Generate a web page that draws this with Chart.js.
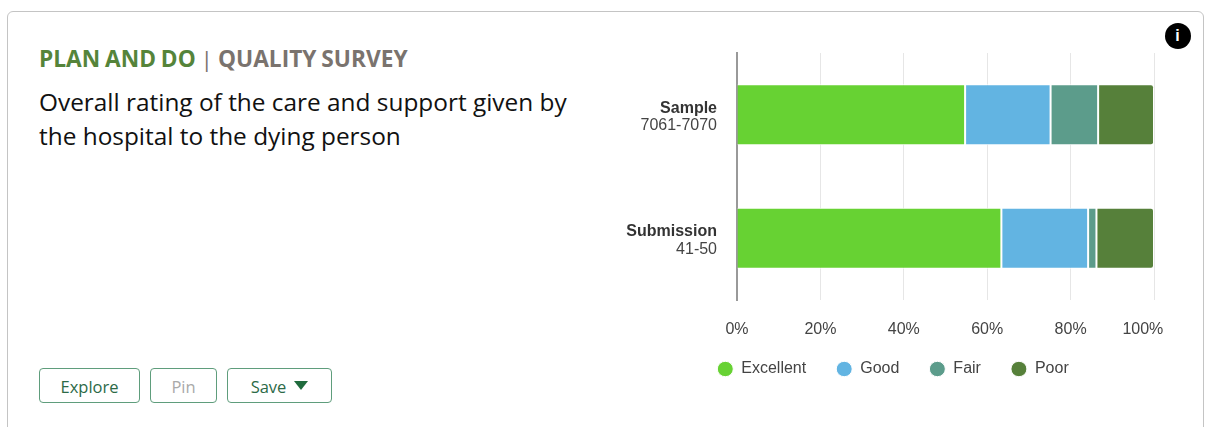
<!DOCTYPE html>
<html>
<head>
<meta charset="utf-8">
<style>
  html, body { margin: 0; padding: 0; background: #fff; }
  body { width: 1208px; height: 427px; overflow: hidden; position: relative; font-family: "Open Sans", "Noto Sans", sans-serif; }
  .card { position: absolute; left: 7px; top: 11px; width: 1195px; height: 440px; border: 1px solid #c4c4c4; border-radius: 6px; box-sizing: content-box; }
  .eyebrow { position: absolute; left: 39px; top: 44px; font-size: 22.7px; line-height: 30px; font-weight: 700; white-space: nowrap; color: #7a736e; word-spacing: -1px; }
  .eyebrow .plan { color: #55843a; }
  .eyebrow .sep { font-weight: 400; }
  .question { position: absolute; left: 39px; top: 85px; font-size: 24.4px; line-height: 33.5px; color: #111; white-space: nowrap; }
  .btn { position: absolute; top: 368px; height: 33px; border: 1px solid #5f9d7c; border-radius: 4px; background: #fff; color: #2c6a47; font-size: 16.5px; line-height: 35px; text-align: center; box-sizing: content-box; }
  .btn.off { color: #a9a9a9; }
  .btn svg { margin-left: 8px; vertical-align: 3px; }
  .info { position: absolute; left: 1164.5px; top: 23px; width: 26px; height: 26px; border-radius: 50%; background: #000; color: #fff; font: bold 16px/26px "Liberation Sans", sans-serif; text-align: center; }
  #wrap { position: absolute; left: 590px; top: 40px; width: 606px; height: 342px; }
</style>
</head>
<body>
<div class="card"></div>
<div class="eyebrow"><span class="plan">PLAN AND DO</span> <span class="sep">|</span> QUALITY SURVEY</div>
<div class="question">Overall rating of the care and support given by<br>the hospital to the dying person</div>
<div class="btn" style="left:39px;width:99px;">Explore</div>
<div class="btn off" style="left:150px;width:65px;">Pin</div>
<div class="btn" style="left:227px;width:103px;">Save<svg width="14" height="9" viewBox="0 0 14 9"><path d="M0 0H14L7 9Z" fill="#1f6b3d"/></svg></div>
<div class="info">i</div>
<div id="wrap"><canvas id="chart"></canvas></div>

<script src="https://cdn.jsdelivr.net/npm/chart.js@4"></script>
<script>
const groupNames = ["Sample", "Submission"];
const groupRanges = ["7061-7070", "41-50"];
const excellent = [54.7, 63.4];
const good = [20.5, 20.8];
const fair = [11.4, 2.0];
const poor = [13.4, 13.8];
const seriesNames = ["Excellent", "Good", "Fair", "Poor"];
const seriesColors = ["#67d233", "#62b4e2", "#5c9c8b", "#56803a"];
const xTicks = [0, 20, 40, 60, 80, 100];

const FONT = '"Liberation Sans", Arial, sans-serif';

// Two-line category labels: bold name above a regular-weight range.
const categoryLabels = {
  id: "categoryLabels",
  afterDraw(chart) {
    const { ctx, scales: { y } } = chart;
    ctx.save();
    ctx.textAlign = "right";
    ctx.textBaseline = "middle";
    groupNames.forEach((name, i) => {
      const py = y.getPixelForValue(i);
      const px = y.right - 20;
      ctx.fillStyle = "#333";
      ctx.font = "bold 16px " + FONT;
      ctx.fillText(name, px, py - 6.5);
      ctx.fillStyle = "#444";
      ctx.font = "16px " + FONT;
      ctx.fillText(groupRanges[i], px, py + 11);
    });
    ctx.restore();
  }
};

// The legend's item padding also pads it vertically; trim that space and lift the row
// so the wide item spacing does not push it away from the axis labels.
const compactLegend = {
  id: "compactLegend",
  beforeInit(chart) {
    const legend = chart.legend;
    const baseFit = legend.fit;
    const baseDraw = legend.draw;
    legend.fit = function () {
      baseFit.call(this);
      this.height -= 10;
    };
    legend.draw = function () {
      this.ctx.save();
      this.ctx.translate(0, -5);
      baseDraw.call(this);
      this.ctx.restore();
    };
  }
};

const makeSet = (i, data, extra) => Object.assign({
  label: seriesNames[i],
  data,
  backgroundColor: seriesColors[i],
  borderColor: "#ffffff",
  borderWidth: 1,
  borderSkipped: false,
  barPercentage: 0.988,
  categoryPercentage: 0.5
}, extra);

new Chart(document.getElementById("chart"), {
  type: "bar",
  data: {
    labels: groupNames,
    datasets: [
      makeSet(0, excellent, { borderSkipped: "left" }),
      makeSet(1, good),
      makeSet(2, fair),
      makeSet(3, poor, { borderRadius: { topRight: 3, bottomRight: 3 } })
    ]
  },
  plugins: [categoryLabels, compactLegend],
  options: {
    indexAxis: "y",
    responsive: true,
    maintainAspectRatio: false,
    animation: false,
    layout: { padding: { top: 13, right: 0, left: 0, bottom: 0 } },
    scales: {
      x: {
        stacked: true,
        min: 0,
        max: 100,
        afterBuildTicks(scale) { scale.ticks = xTicks.map(value => ({ value })); },
        // The right gutter belongs to the axis so the legend stays centred on the full canvas.
        afterFit(scale) { scale.height = 36; scale.paddingRight = 42; },
        ticks: {
          // The end label sits inward from its gridline; trailing spaces shift the centred text left.
          callback: v => v === 100 ? "100%     " : v + "%",
          color: "#444",
          font: { family: FONT, size: 16 },
          padding: 20,
          maxRotation: 0
        },
        grid: { color: "#e6e6e6", lineWidth: 1, drawTicks: false },
        border: { display: false }
      },
      y: {
        stacked: true,
        afterFit(scale) { scale.width = 147; },
        ticks: { display: false },
        grid: { display: false },
        border: { display: true, color: "#999", width: 2 }
      }
    },
    plugins: {
      tooltip: { enabled: false },
      legend: {
        position: "bottom",
        labels: {
          usePointStyle: true,
          pointStyle: "circle",
          boxHeight: 10.9,
          pointStyleWidth: 16,
          padding: 30,
          color: "#444",
          font: { family: FONT, size: 16 }
        }
      }
    }
  }
});
</script>
</body>
</html>
